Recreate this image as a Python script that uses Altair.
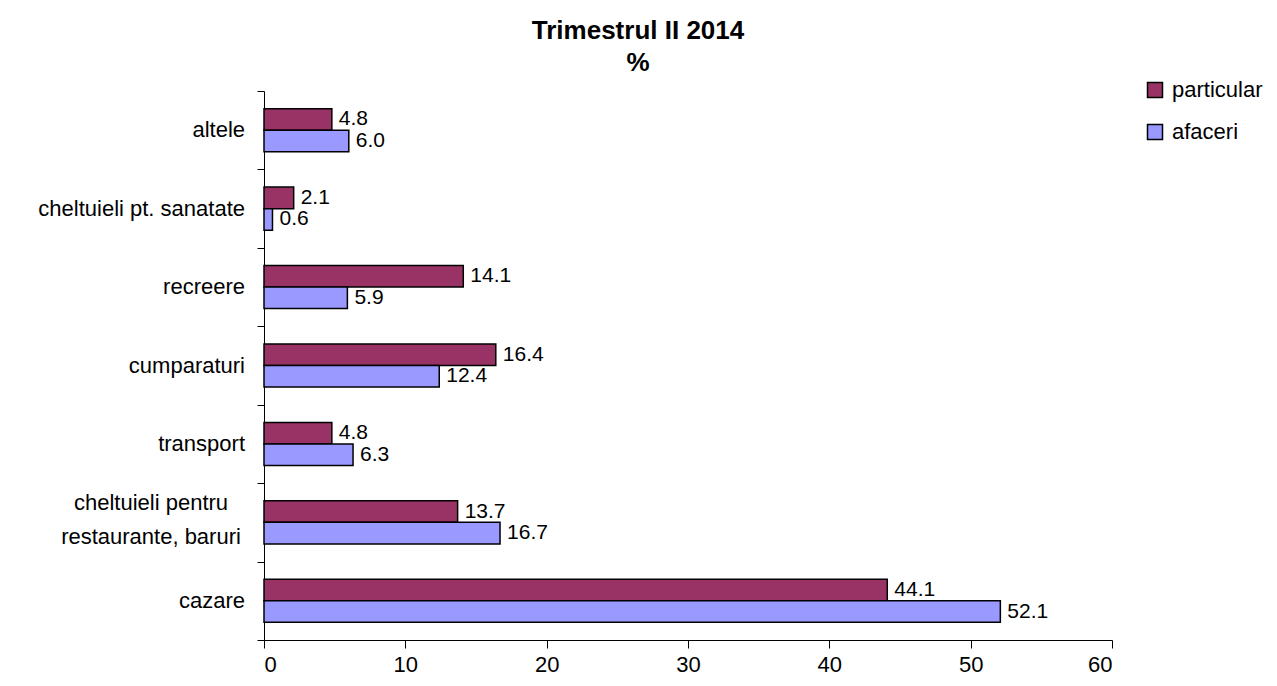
import altair as alt
import pandas as pd

categories = ["altele", "cheltuieli pt. sanatate", "recreere", "cumparaturi",
              "transport", "cheltuieli pentru|restaurante, baruri", "cazare"]
series = ["particular", "afaceri"]
particular = [4.8, 2.1, 14.1, 16.4, 4.8, 13.7, 44.1]
afaceri = [6.0, 0.6, 5.9, 12.4, 6.3, 16.7, 52.1]
colors = ["#993366", "#9999FF"]
x_ticks = [0, 10, 20, 30, 40, 50, 60]

rows = []
for c, p, a in zip(categories, particular, afaceri):
    rows.append({"cat": c, "series": "particular", "value": p})
    rows.append({"cat": c, "series": "afaceri", "value": a})
df = pd.DataFrame(rows)
cat_df = pd.DataFrame({"cat": categories})

FONT = "Liberation Sans"

y_enc = alt.Y("cat:N", sort=categories, title=None,
              scale=alt.Scale(paddingInner=0, paddingOuter=0),
              axis=alt.Axis(labels=False, tickBand="extent",
                            tickSize=7, tickColor="black", domainColor="black"))
yoff_enc = alt.YOffset("series:N", sort=series,
                       scale=alt.Scale(paddingOuter=0.82, paddingInner=0))
x_enc = alt.X("value:Q", title=None,
              scale=alt.Scale(domain=[0, 60], nice=False),
              axis=alt.Axis(values=x_ticks, grid=False, tickSize=8, tickColor="black",
                            domainColor="black", labelFontSize=22, labelColor="black",
                            labelFont=FONT, labelPadding=6))

bars = alt.Chart(df).mark_bar(stroke="black", strokeWidth=1.5).encode(
    y=y_enc, yOffset=yoff_enc, x=x_enc,
    color=alt.Color("series:N", sort=series,
                    scale=alt.Scale(domain=series, range=colors),
                    legend=alt.Legend(title=None, orient="none", legendX=880, legendY=-12,
                                      symbolType="square", symbolSize=225,
                                      symbolStrokeColor="black", symbolStrokeWidth=1.5,
                                      labelFontSize=22, labelFont=FONT, labelColor="black",
                                      labelOffset=6, rowPadding=20, labelLimit=300)),
)

values = alt.Chart(df).mark_text(align="left", baseline="middle", dx=7,
                                 fontSize=21, font=FONT, color="black").encode(
    y=alt.Y("cat:N", sort=categories), yOffset=alt.YOffset("series:N", sort=series),
    x=alt.X("value:Q"),
    text=alt.Text("value:Q", format=".1f"),
)

single_labels = alt.Chart(cat_df).transform_filter(
    "indexof(datum.cat, '|') < 0"
).mark_text(align="right", baseline="middle", fontSize=22, font=FONT,
            color="black").encode(
    y=alt.Y("cat:N", sort=categories),
    x=alt.value(-19),
    text="cat:N",
)

multi_labels = alt.Chart(cat_df).transform_filter(
    "indexof(datum.cat, '|') >= 0"
).mark_text(align="center", baseline="middle", lineBreak="|", lineHeight=34,
            dy=-19, fontSize=22, font=FONT, color="black").encode(
    y=alt.Y("cat:N", sort=categories),
    x=alt.value(-113),
    text="cat:N",
)

chart = alt.layer(bars, values, single_labels, multi_labels).properties(
    width=848, height=549,
    autosize=alt.AutoSizeParams(type="none"),
    padding={"left": 256, "top": 83, "right": 156, "bottom": 38},
    title=alt.TitleParams(["Trimestrul II 2014", "%"], fontSize=26, font=FONT,
                          fontWeight="bold", color="black", anchor="middle",
                          dx=-50, offset=3, lineHeight=32),
).configure_view(stroke=None)

chart.save("out.html", embed_options={"renderer": "svg", "actions": False})
